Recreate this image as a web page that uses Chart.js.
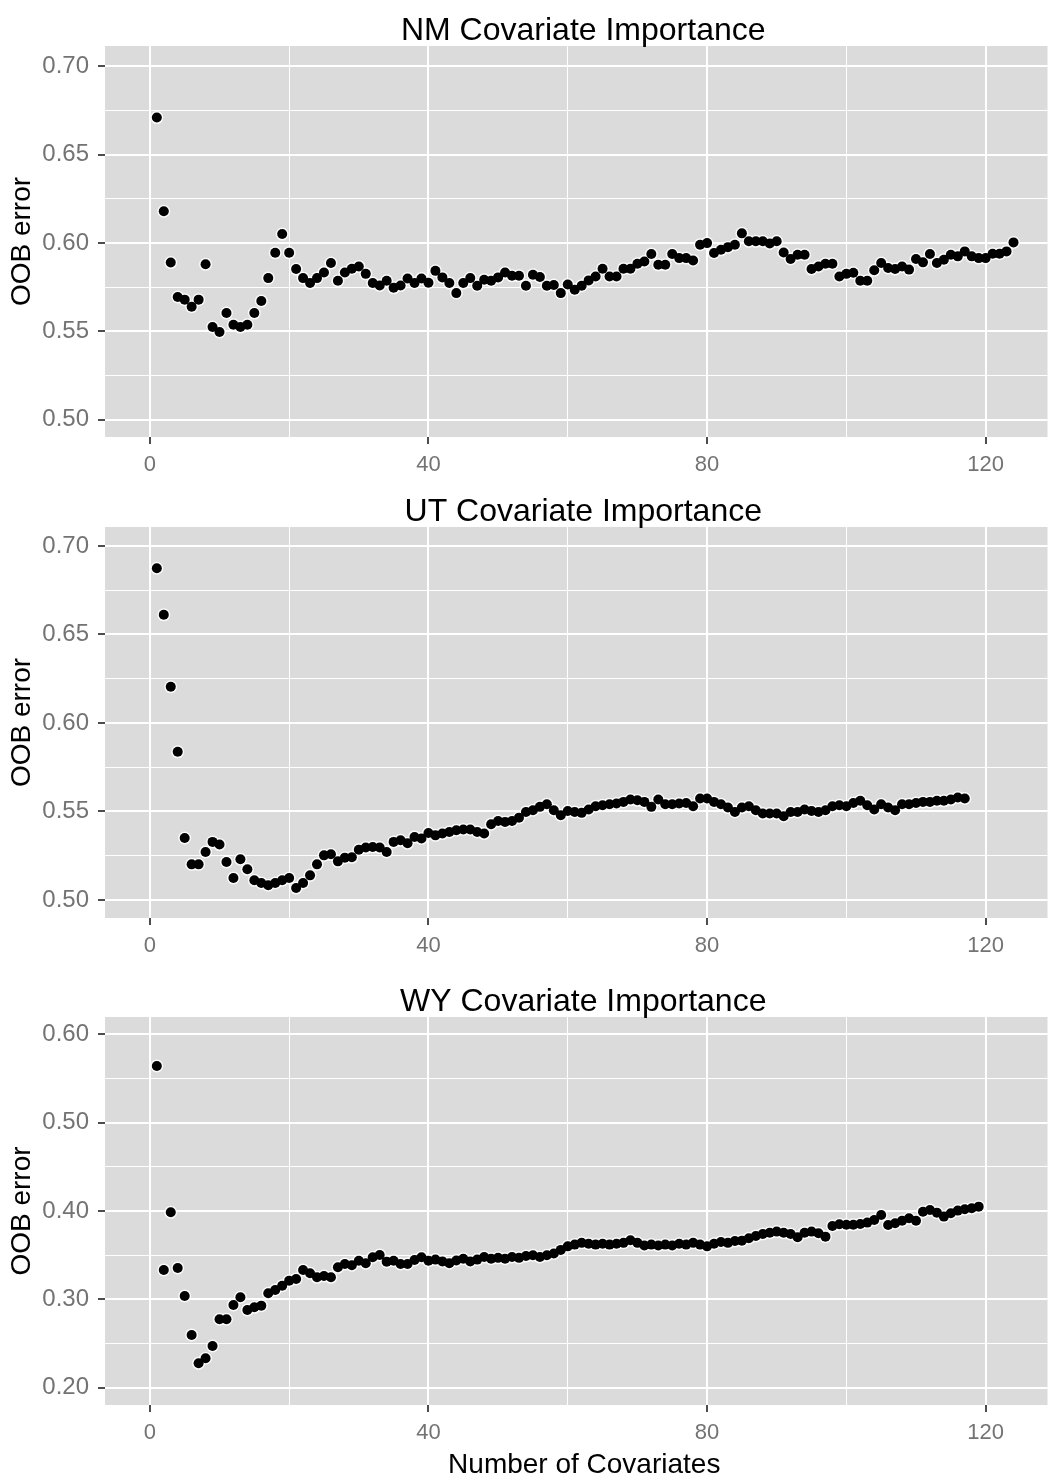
<!DOCTYPE html>
<html>
<head>
<meta charset="utf-8">
<script src="https://cdn.jsdelivr.net/npm/chart.js@4.4.1/dist/chart.umd.min.js"></script>
<style>
  body { margin: 0; background: #fff; width: 1054px; height: 1477px; overflow: hidden; position: relative; }
  .panel { position: absolute; left: 0; width: 1054px; }
</style>
</head>
<body>
<div class="panel" style="top:0;height:481px"><canvas id="nmChart"></canvas></div>
<div class="panel" style="top:481px;height:489px"><canvas id="utChart"></canvas></div>
<div class="panel" style="top:970px;height:520px"><canvas id="wyChart"></canvas></div>
<script>
// OOB error against number of covariates, one array per state
const nmError = [
  0.671, 0.618, 0.589, 0.5695, 0.568, 0.564, 0.568, 0.588, 0.5525, 0.5497,
  0.5604, 0.5538, 0.5525, 0.5538, 0.5604, 0.5672, 0.5802, 0.5945, 0.6051, 0.5945,
  0.5853, 0.5802, 0.5774, 0.5802, 0.5834, 0.5887, 0.5787, 0.5834, 0.5855, 0.5868,
  0.5826, 0.5774, 0.576, 0.5787, 0.5747, 0.576, 0.58, 0.5774, 0.58, 0.5776,
  0.5843, 0.5806, 0.5774, 0.5717, 0.5774, 0.5802, 0.5759, 0.5793, 0.5787, 0.5806,
  0.5834, 0.5815, 0.5815, 0.5759, 0.5821, 0.5808, 0.5759, 0.5763, 0.5717, 0.5766,
  0.5736, 0.5759, 0.5789, 0.5811, 0.5855, 0.5811, 0.5811, 0.5855, 0.5855, 0.5883,
  0.5896, 0.5938, 0.5877, 0.5877, 0.5938, 0.5915, 0.5915, 0.5902, 0.5991, 0.600,
  0.5944, 0.5962, 0.5977, 0.5991, 0.6055, 0.601, 0.601, 0.601, 0.5998, 0.601,
  0.5947, 0.591, 0.5934, 0.5934, 0.5853, 0.5868, 0.5883, 0.5883, 0.5811, 0.5826,
  0.5832, 0.5787, 0.5787, 0.5846, 0.5887, 0.5859, 0.5853, 0.5868, 0.585, 0.591,
  0.5891, 0.5938, 0.5887, 0.5906, 0.5934, 0.5925, 0.5953, 0.5925, 0.5915, 0.5915,
  0.594, 0.594, 0.5953, 0.6004
];
const utError = [
  0.6874, 0.6611, 0.6204, 0.5837, 0.535, 0.5201, 0.5201, 0.5271, 0.5328, 0.5313,
  0.5214, 0.5124, 0.523, 0.5173, 0.5111, 0.5096, 0.5083, 0.5096, 0.5111, 0.5124,
  0.5067, 0.5096, 0.5139, 0.5201, 0.5252, 0.5258, 0.5218, 0.5239, 0.5241, 0.5284,
  0.5296, 0.5299, 0.5296, 0.5271, 0.5328, 0.5337, 0.532, 0.5356, 0.5347, 0.5378,
  0.5365, 0.5375, 0.5384, 0.5394, 0.5398, 0.5398, 0.5384, 0.5375, 0.5428, 0.5446,
  0.5441, 0.5446, 0.5465, 0.5497, 0.5507, 0.5526, 0.5541, 0.5507, 0.5479, 0.5503,
  0.5497, 0.5492, 0.5511, 0.5529, 0.5535, 0.5541, 0.5545, 0.5554, 0.5567, 0.5563,
  0.5554, 0.5526, 0.5567, 0.5541, 0.5541, 0.5545, 0.5548, 0.5529, 0.5573, 0.5573,
  0.5554, 0.5541, 0.5522, 0.5497, 0.5522, 0.5529, 0.5507, 0.5488, 0.5488, 0.5488,
  0.5473, 0.5497, 0.5497, 0.5511, 0.5503, 0.5497, 0.5507, 0.5529, 0.5535, 0.5529,
  0.5548, 0.556, 0.5535, 0.5511, 0.5541, 0.5522, 0.5507, 0.5541, 0.5541, 0.5548,
  0.5554, 0.5554, 0.556, 0.556, 0.5567, 0.5579, 0.5573
];
const wyError = [
  0.5643, 0.3333, 0.3986, 0.3356, 0.3039, 0.2597, 0.2276, 0.2333, 0.2472, 0.2775,
  0.2775, 0.2937, 0.3024, 0.288, 0.291, 0.2929, 0.3069, 0.3106, 0.3155, 0.3212,
  0.3231, 0.3333, 0.3296, 0.325, 0.3265, 0.325, 0.3363, 0.3401, 0.3386, 0.3438,
  0.3408, 0.3477, 0.3503, 0.3427, 0.3438, 0.3401, 0.3401, 0.3446, 0.3477, 0.3438,
  0.345, 0.343, 0.341, 0.344, 0.346, 0.343, 0.345, 0.348, 0.346, 0.347,
  0.346, 0.348, 0.347, 0.349, 0.350, 0.348, 0.350, 0.352, 0.356, 0.360,
  0.362, 0.364, 0.363, 0.362, 0.363, 0.362, 0.363, 0.364, 0.367, 0.364,
  0.361, 0.362, 0.361, 0.362, 0.361, 0.363, 0.362, 0.364, 0.362, 0.360,
  0.363, 0.365, 0.364, 0.366, 0.3665, 0.3692, 0.3718, 0.374, 0.3755, 0.3767,
  0.3755, 0.374, 0.3703, 0.3755, 0.3767, 0.3749, 0.371, 0.3831, 0.385, 0.3844,
  0.3844, 0.3854, 0.3869, 0.3899, 0.3956, 0.3843, 0.3862, 0.3891, 0.3918, 0.3891,
  0.3993, 0.4012, 0.3982, 0.3937, 0.3975, 0.4005, 0.402, 0.4031, 0.405
];

// labelled ticks
const xTicks = [0, 40, 80, 120];
const nmYTicks = [0.50, 0.55, 0.60, 0.65, 0.70];
const utYTicks = [0.50, 0.55, 0.60, 0.65, 0.70];
const wyYTicks = [0.20, 0.30, 0.40, 0.50, 0.60];

const FONT = '"Liberation Sans", Arial, sans-serif';
Chart.defaults.font.family = FONT;

function isMajor(v, list) {
  return list.some(t => Math.abs(t - v) < 1e-6);
}

// grey panel behind the grid + panel title (+ x title on the last panel)
const ggPanel = {
  id: 'ggPanel',
  beforeDraw(chart, args, opts) {
    const {ctx, chartArea: a} = chart;
    ctx.save();
    ctx.fillStyle = '#dbdbdb';
    ctx.fillRect(a.left, a.top, a.right - a.left, a.bottom - a.top);
    ctx.restore();
  },
  afterDraw(chart, args, opts) {
    const {ctx, chartArea: a} = chart;
    const cx = (a.left + a.right) / 2 + 7;
    ctx.save();
    ctx.fillStyle = '#000';
    ctx.textAlign = 'center';
    ctx.textBaseline = 'alphabetic';
    ctx.font = '32px ' + FONT;
    ctx.fillText(opts.title, cx, a.top - 6);
    if (opts.xTitle) {
      ctx.font = '28px ' + FONT;
      ctx.fillText(opts.xTitle, cx + 1, a.bottom + 68);
    }
    ctx.restore();
  }
};

function buildPanel(id, title, values, yTicks, yMin, yMax, yStep, top, bottom, xTitle) {
  const points = values.map((v, i) => ({x: i + 1, y: v}));
  const el = document.getElementById(id);
  const h = el.parentNode.clientHeight;
  const gridWidth = (list) => ctx => isMajor(ctx.tick.value, list) ? 2 : 1;
  const tickColor = (list) => ctx => isMajor(ctx.tick.value, list) ? '#4d4d4d' : 'rgba(0,0,0,0)';
  return new Chart(el, {
    type: 'scatter',
    data: {
      datasets: [
        {data: points, pointRadius: 5, backgroundColor: '#000', borderWidth: 0},
        {data: points, pointRadius: 6.5, backgroundColor: 'rgba(255,255,255,0.85)', borderWidth: 0}
      ]
    },
    options: {
      responsive: true,
      maintainAspectRatio: false,
      animation: false,
      events: [],
      layout: {padding: {top: top, right: 4, left: 0, bottom: 0}},
      plugins: {
        legend: {display: false},
        tooltip: {enabled: false},
        ggPanel: {title: title, xTitle: xTitle}
      },
      scales: {
        x: {
          type: 'linear',
          min: -6.44,
          max: 128.88,
          afterFit: s => { s.height = h - bottom; },
          border: {display: false},
          grid: {color: '#fff', lineWidth: gridWidth(xTicks), tickColor: tickColor(xTicks), tickLength: 7, tickWidth: 2},
          ticks: {
            stepSize: 20, includeBounds: false, autoSkip: false, maxRotation: 0,
            padding: 8, color: '#737373', font: {size: 22},
            callback: v => isMajor(v, xTicks) ? String(v) : ''
          }
        },
        y: {
          min: yMin,
          max: yMax,
          afterFit: s => { s.width = 105; },
          border: {display: false},
          grid: {color: '#fff', lineWidth: gridWidth(yTicks), tickColor: tickColor(yTicks), tickLength: 7, tickWidth: 2},
          ticks: {
            stepSize: yStep, includeBounds: false, autoSkip: false,
            padding: 9, color: '#737373', font: {size: 24},
            callback: v => isMajor(v, yTicks) ? v.toFixed(2) : ''
          },
          title: {display: true, text: 'OOB error', color: '#000', font: {size: 28}, padding: {top: 5, bottom: 0}}
        }
      }
    },
    plugins: [ggPanel]
  });
}

buildPanel('nmChart', 'NM Covariate Importance', nmError, nmYTicks, 0.4903, 0.7115, 0.025, 46, 437);
buildPanel('utChart', 'UT Covariate Importance', utError, utYTicks, 0.4898, 0.7107, 0.025, 46, 437);
buildPanel('wyChart', 'WY Covariate Importance', wyError, wyYTicks, 0.1804, 0.6197, 0.05, 47, 435, 'Number of Covariates');
</script>
</body>
</html>
